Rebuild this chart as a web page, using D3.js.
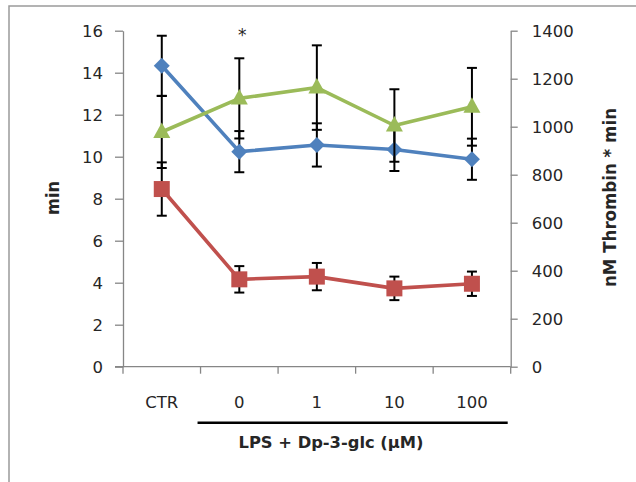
<!DOCTYPE html>
<html>
<head>
<meta charset="utf-8">
<script src="https://cdn.jsdelivr.net/npm/d3@7/dist/d3.min.js"></script>
<style>
  html, body { margin: 0; padding: 0; background: #fff; }
  svg { display: block; }
  text { font-family: "DejaVu Sans", sans-serif; fill: #262626; }
</style>
</head>
<body>
<svg id="chart" width="636" height="482"></svg>
<script>
// ---- Data ----
const categories = ["CTR", "0", "1", "10", "100"];
const leftTicks = [0, 2, 4, 6, 8, 10, 12, 14, 16];
const rightTicks = [0, 200, 400, 600, 800, 1000, 1200, 1400];

// blue series (left axis, min)
const blueValues = [14.33, 10.24, 10.56, 10.34, 9.88];
const blueErrors = [1.43, 0.98, 1.03, 1.02, 0.98];
// red series (left axis, min)
const redValues = [8.46, 4.16, 4.29, 3.73, 3.95];
const redErrors = [1.27, 0.63, 0.65, 0.56, 0.58];
// green series (right axis, nM Thrombin * min)
const greenValues = [978, 1118, 1163, 1005, 1083];
const greenErrors = [150, 167, 176, 151, 162];

const leftTitle = "min";
const rightTitle = "nM Thrombin * min";
const groupTitle = "LPS + Dp-3-glc (µM)";
const significance = "*";
const sigIndex = 1;

// ---- Layout ----
const svg = d3.select("#chart");
const plot = { left: 123, right: 510.7, top: 30.7, bottom: 366.7 };
const axisColor = "#868686";

// frame
svg.append("rect")
  .attr("x", 9).attr("y", 6).attr("width", 700).attr("height", 600)
  .attr("fill", "none").attr("stroke", "#9a9a9a").attr("stroke-width", 1.5);

const x = d3.scaleBand().domain(categories).range([plot.left, plot.right]).padding(0);
const yL = d3.scaleLinear().domain([0, 16]).range([plot.bottom, plot.top]);
const yR = d3.scaleLinear().domain([0, 1400]).range([plot.bottom, plot.top]);
const cx = c => x(c) + x.bandwidth() / 2;

// left axis
const gL = svg.append("g").attr("transform", `translate(${plot.left},0)`)
  .call(d3.axisLeft(yL).tickValues(leftTicks).tickFormat(d3.format("d"))
    .tickSize(8).tickPadding(12).tickSizeOuter(0));
// right axis
const gR = svg.append("g").attr("transform", `translate(${plot.right},0)`)
  .call(d3.axisRight(yR).tickValues(rightTicks).tickFormat(d3.format("d"))
    .tickSize(7).tickPadding(14).tickSizeOuter(0));
// bottom axis: ticks at band boundaries, labels at centres
const gB = svg.append("g").attr("transform", `translate(0,${plot.bottom})`);
gB.append("line").attr("x1", plot.left - 8).attr("x2", plot.right)
  .attr("y1", 0).attr("y2", 0).attr("stroke", axisColor).attr("stroke-width", 1.3);
const bounds = categories.map(c => x(c)).concat([x(categories[categories.length - 1]) + x.bandwidth()]);
gB.selectAll("line.tk").data(bounds).join("line").attr("class", "tk")
  .attr("x1", d => d).attr("x2", d => d).attr("y1", 0).attr("y2", 7)
  .attr("stroke", axisColor).attr("stroke-width", 1.3);
gB.selectAll("text.cat").data(categories).join("text").attr("class", "cat")
  .attr("x", d => cx(d)).attr("y", 41.5).attr("text-anchor", "middle")
  .attr("font-size", 16.5).text(d => d);

[gL, gR].forEach(g => {
  g.select(".domain").attr("stroke", axisColor).attr("stroke-width", 1.3);
  g.selectAll(".tick line").attr("stroke", axisColor).attr("stroke-width", 1.3);
  g.selectAll(".tick text").attr("font-size", 16.5).attr("fill", "#262626")
    .attr("font-family", "DejaVu Sans, sans-serif").attr("dy", "0.36em");
});

// axis titles
svg.append("text").attr("transform", "translate(59,198) rotate(-90)")
  .attr("text-anchor", "middle").attr("font-size", 18).attr("font-weight", "bold")
  .attr("textLength", 34).attr("lengthAdjust", "spacingAndGlyphs")
  .text(leftTitle);
svg.append("text").attr("transform", "translate(616,197.5) rotate(-90)")
  .attr("text-anchor", "middle").attr("font-size", 18).attr("font-weight", "bold")
  .attr("textLength", 179).attr("lengthAdjust", "spacingAndGlyphs")
  .text(rightTitle);

// group bracket and title
svg.append("line").attr("x1", x(categories[1]) - 3).attr("x2", plot.right - 3)
  .attr("y1", 422.7).attr("y2", 422.7).attr("stroke", "#000").attr("stroke-width", 2.5);
svg.append("text").attr("x", 331).attr("y", 448).attr("text-anchor", "middle")
  .attr("font-size", 16).attr("font-weight", "bold")
  .attr("textLength", 185).attr("lengthAdjust", "spacingAndGlyphs")
  .text(groupTitle);

// significance star
svg.append("text").attr("x", cx(categories[sigIndex]) + 3).attr("y", 40.5)
  .attr("text-anchor", "middle").attr("font-size", 17).text(significance);

// ---- Series ----
function drawSeries(values, errors, scale, color, shape) {
  const g = svg.append("g");
  const pts = values.map((v, i) => ({ c: categories[i], v, e: errors[i] }));
  g.append("path").datum(pts)
    .attr("d", d3.line().x(d => cx(d.c)).y(d => scale(d.v)))
    .attr("fill", "none").attr("stroke", color).attr("stroke-width", 3.6)
    .attr("stroke-linejoin", "round");
  const eb = g.selectAll("g.err").data(pts).join("g").attr("class", "err");
  eb.append("line").attr("x1", d => cx(d.c)).attr("x2", d => cx(d.c))
    .attr("y1", d => scale(d.v + d.e)).attr("y2", d => scale(d.v - d.e))
    .attr("stroke", "#000").attr("stroke-width", 2);
  [1, -1].forEach(s => {
    eb.append("line").attr("x1", d => cx(d.c) - 5).attr("x2", d => cx(d.c) + 5)
      .attr("y1", d => scale(d.v + s * d.e)).attr("y2", d => scale(d.v + s * d.e))
      .attr("stroke", "#000").attr("stroke-width", 2);
  });
  g.selectAll("path.mk").data(pts).join("path").attr("class", "mk")
    .attr("transform", d => `translate(${cx(d.c)},${scale(d.v)})`)
    .attr("d", shape).attr("fill", color);
}

const diamond = "M0,-8L8,0L0,8L-8,0Z";
const square = "M-8,-8H8V8H-8Z";
const triangle = "M0,-9.5L8.5,6L-8.5,6Z";

drawSeries(blueValues, blueErrors, yL, "#4F81BD", diamond);
drawSeries(redValues, redErrors, yL, "#C0504D", square);
drawSeries(greenValues, greenErrors, yR, "#9BBB59", triangle);
</script>
</body>
</html>
